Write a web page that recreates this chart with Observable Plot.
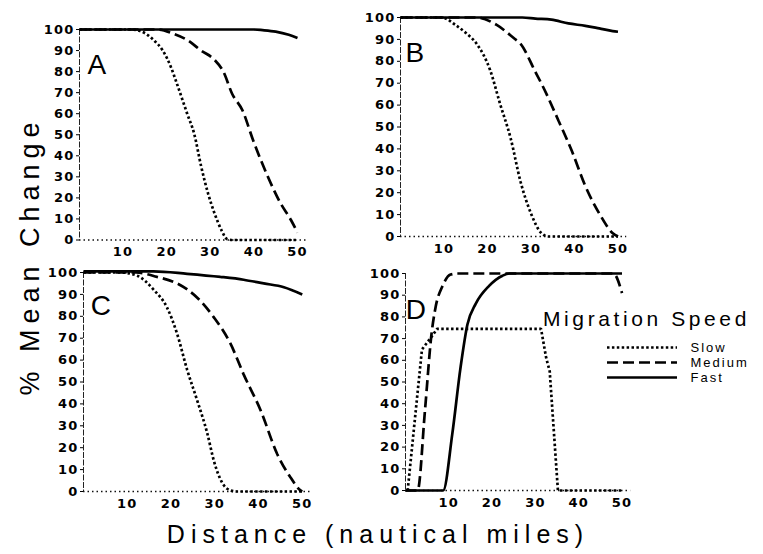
<!DOCTYPE html>
<html><head><meta charset="utf-8">
<script src="https://cdn.jsdelivr.net/npm/d3@7"></script>
<script src="https://cdn.jsdelivr.net/npm/@observablehq/plot@0.6"></script>
<style>
body{margin:0;background:#fff;}
#chart{position:relative;width:763px;height:554px;background:#fff;font-family:"Liberation Sans",Arial,sans-serif;color:#000;overflow:hidden;}
.panel{position:absolute;}
.ttl{position:absolute;white-space:nowrap;line-height:1;}
</style></head><body><div id="chart"></div>
<script>
// ---- data ----
const speeds = ["Slow", "Medium", "Fast"];
const panels = ["A", "B", "C", "D"];
const yTicks = [0, 10, 20, 30, 40, 50, 60, 70, 80, 90, 100];
const xTicks = [10, 20, 30, 40, 50];
const yTitle = "% Mean Change";
const xTitle = "Distance (nautical miles)";
const legendTitle = "Migration Speed";

// [distance, % mean change]
const aSlow = [[0,100],[12,100],[15.2,98],[17,95],[19.1,90],[21,82],[22.3,74.5],[24.7,60],[26.3,50.5],[27.9,35],[29.5,22],[31,12.5],[32.6,4.5],[33.8,0.5],[35,0],[50,0]];
const aMedium = [[0,100],[18,100],[21.5,98],[24.7,95],[27.9,90],[31,85.5],[33,80],[35,69.5],[37.4,61.5],[39.8,47.5],[42.9,31.5],[46.1,17.5],[48.5,9.5],[50,3.5]];
const aFast = [[0,100],[40,100],[42,99.7],[45,99],[48,97.5],[50,96]];

const bSlow = [[0,100],[9.5,100],[12.7,96.5],[15,93],[17.5,88],[20.6,76],[22.9,60.5],[25.3,45],[27.6,25],[30,10.5],[32.4,1.5],[34,0],[50,0]];
const bMedium = [[0,100],[17.5,100],[22.2,96.5],[26.1,90.5],[27.6,88],[30.8,76],[33.1,67],[36.3,53],[39.4,39],[42.5,23],[45.7,10.5],[48.8,1.5],[50,0]];
const bFast = [[0,100],[28,100],[31,99.5],[34.7,99],[38.6,97.3],[42.5,96.2],[45.7,95],[48.8,93.8],[50,93.5]];

const cSlow = [[0,100],[8.5,100],[12.3,98.5],[16.1,92],[19.1,84],[21.4,72],[23.7,55.5],[26,41.5],[28.3,26.5],[29.8,14],[31.7,4],[33.6,0.5],[35,0],[50,0]];
const cMedium = [[0,100],[12,100],[16.8,98],[21.4,95],[26,88.5],[29.8,79.5],[33.6,67.5],[36.6,53.5],[40.5,37],[44.3,17],[47.3,6.5],[49.6,0.5],[50,0]];
const cFast = [[0,100.5],[16,100.5],[23.7,99.4],[31.3,98],[36.6,96.7],[41.2,95],[45.8,93.3],[50,90]];

const dSlow = [[0.5,0],[3.8,65],[5.7,70],[7.3,74.5],[31.3,74.5],[32.5,61],[33.3,55],[35.2,0],[50,0]];
const dMedium = [[0,0],[2.8,0],[4.5,37],[6,72],[7,85],[8.5,94],[10.4,99.5],[12,100],[48,100],[50,91]];
const dFast = [[0,0],[8.7,0],[10.8,26],[12.7,56.5],[14.3,76.5],[16.2,86],[19.3,94.3],[22.4,99],[24,100],[50,100]];

const seriesByPanel = {
  A: {Slow: aSlow, Medium: aMedium, Fast: aFast},
  B: {Slow: bSlow, Medium: bMedium, Fast: bFast},
  C: {Slow: cSlow, Medium: cMedium, Fast: cFast},
  D: {Slow: dSlow, Medium: dMedium, Fast: dFast}
};

// ---- layout / styles ----
const layout = {
  A: {left: 0,   top: 0,   w: 380, h: 262, x0: 79,  k: 4.36,  y100: 29,  y0: 239.5, ldx: 18, ldy: 36, curve: "monotone-x"},
  B: {left: 380, top: 0,   w: 383, h: 262, x0: 400, k: 4.35,  y100: 17,  y0: 236,   ldx: 15, ldy: 36, curve: "monotone-x"},
  C: {left: 0,   top: 258, w: 380, h: 270, x0: 83,  k: 4.375, y100: 272, y0: 491,   ldx: 18, ldy: 34, curve: "monotone-x"},
  D: {left: 380, top: 258, w: 383, h: 270, x0: 405, k: 4.33,  y100: 273, y0: 490,   ldx: 11, ldy: 37, curve: "linear"}
};
const dash = {Slow: "2.5,2.4", Medium: "11,5", Fast: null};
const lineW = 2.7;
const chart = document.getElementById("chart");

for (const p of panels) {
  const L = layout[p];
  const mL = L.x0 - L.left;
  const plotW = 52 * L.k;
  const mR = L.w - mL - plotW;
  const mT = L.y100 - L.top;
  const mB = L.h - (L.y0 - L.top);
  const marks = [
    Plot.ruleX([0], {stroke: "#222", strokeWidth: 1, strokeDasharray: "6,1.5"}),
    Plot.ruleY([0], {stroke: "#111", strokeWidth: 1.3, strokeDasharray: "1.5,3"}),
    Plot.axisY({ticks: yTicks, tickSize: 3, tickPadding: 2, fontSize: 13, fontWeight: "bold"}),
    Plot.axisX({ticks: xTicks, tickSize: 0, tickPadding: 7, fontSize: 13, fontWeight: "bold"})
  ];
  for (const s of speeds) {
    const curve = (p === "D" && s !== "Slow") ? "monotone-x" : L.curve;
    const opts = {x: d => d[0], y: d => d[1], stroke: "#000", strokeWidth: lineW, curve, strokeLinecap: "butt", strokeLinejoin: "miter"};
    if (dash[s]) opts.strokeDasharray = dash[s];
    marks.push(Plot.line(seriesByPanel[p][s], opts));
  }
  marks.push(Plot.text([p], {text: d => d, frameAnchor: "top-left", dx: L.ldx, dy: L.ldy, fontSize: 28, textAnchor: "middle", lineAnchor: "middle", fill: "#000", fontFamily: "Liberation Sans, Arial, sans-serif"}));
  const svg = Plot.plot({
    width: L.w, height: L.h,
    marginLeft: mL, marginRight: mR, marginTop: mT, marginBottom: mB,
    x: {domain: [0, 52], label: null},
    y: {domain: [0, 100], label: null},
    style: {background: "transparent", fontFamily: "DejaVu Sans, sans-serif", fontSize: "13px", color: "#000", overflow: "visible", letterSpacing: "1.2px"},
    marks
  });
  svg.classList.add("panel");
  svg.style.left = L.left + "px";
  svg.style.top = L.top + "px";
  chart.appendChild(svg);
}

// legend
const leg = Plot.plot({
  width: 160, height: 55, margin: 0,
  x: {domain: [0, 1], range: [7, 77], axis: null},
  y: {type: "point", domain: speeds, range: [12, 42], padding: 0, axis: null},
  style: {background: "transparent", overflow: "visible", fontFamily: "Liberation Sans, Arial, sans-serif", letterSpacing: "2px"},
  marks: [
    ...speeds.map(s => Plot.ruleY([s], {x1: 0, x2: 1, stroke: "#000", strokeWidth: lineW, strokeLinecap: "butt", ...(dash[s] ? {strokeDasharray: dash[s]} : {})})),
    Plot.text(speeds, {y: d => d, x: 1, dx: 13, text: d => d, textAnchor: "start", fontSize: 13, fill: "#000"})
  ]
});
leg.classList.add("panel");
leg.style.left = "600px";
leg.style.top = "335px";
chart.appendChild(leg);

function addTitle(txt, css) {
  const d = document.createElement("div");
  d.className = "ttl";
  d.textContent = txt;
  Object.assign(d.style, css);
  chart.appendChild(d);
}
addTitle(yTitle, {left: "30px", top: "256px", fontSize: "27px", letterSpacing: "6px", transform: "translate(-50%,-50%) rotate(-90deg)"});
addTitle(xTitle, {left: "378px", top: "534px", fontSize: "25px", letterSpacing: "6px", transform: "translate(-50%,-50%)"});
addTitle(legendTitle, {left: "543px", top: "308px", fontSize: "21px", letterSpacing: "3.6px"});
</script></body></html>
